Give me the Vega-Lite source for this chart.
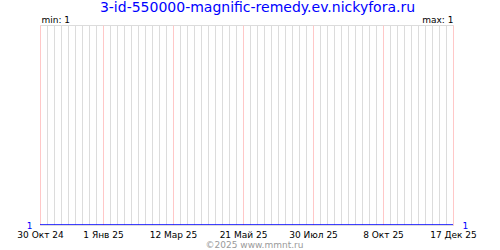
{
  "$schema": "https://vega.github.io/schema/vega-lite/v6.json",
  "width": 413,
  "height": 200,
  "autosize": {"type": "none"},
  "padding": {"left": 40, "top": 25, "right": 47, "bottom": 25},
  "background": "#ffffff",
  "config": {
    "view": {"stroke": "#dcdcdc", "strokeWidth": 1},
    "font": "DejaVu Sans"
  },
  "title": {
    "text": "3-id-550000-magnific-remedy.ev.nickyfora.ru",
    "font": "DejaVu Sans",
    "fontSize": 14,
    "fontWeight": "normal",
    "color": "#0000ff",
    "anchor": "middle",
    "frame": "group",
    "dx": 11,
    "offset": 0
  },
  "data": {
    "values": [
      {"date": "2024-10-30", "value": 1},
      {"date": "2025-01-01", "value": 1},
      {"date": "2025-03-12", "value": 1},
      {"date": "2025-05-21", "value": 1},
      {"date": "2025-07-30", "value": 1},
      {"date": "2025-10-08", "value": 1},
      {"date": "2025-12-17", "value": 1}
    ]
  },
  "encoding": {
    "x": {
      "field": "date",
      "type": "temporal",
      "scale": {"type": "utc", "domain": [1730246400000, 1765929600000], "nice": false, "padding": 0},
      "axis": {
        "orient": "bottom",
        "values": [1730246400000,1730851200000,1731456000000,1732060800000,1732665600000,1733270400000,1733875200000,1734480000000,1735084800000,1735689600000,1736294400000,1736899200000,1737504000000,1738108800000,1738713600000,1739318400000,1739923200000,1740528000000,1741132800000,1741737600000,1742342400000,1742947200000,1743552000000,1744156800000,1744761600000,1745366400000,1745971200000,1746576000000,1747180800000,1747785600000,1748390400000,1748995200000,1749600000000,1750204800000,1750809600000,1751414400000,1752019200000,1752624000000,1753228800000,1753833600000,1754438400000,1755043200000,1755648000000,1756252800000,1756857600000,1757462400000,1758067200000,1758672000000,1759276800000,1759881600000,1760486400000,1761091200000,1761696000000,1762300800000,1762905600000,1763510400000,1764115200000,1764720000000,1765324800000,1765929600000],
        "grid": true,
        "gridColor": {
          "condition": {
            "test": "time(datum.value) == 1730246400000 || (time(datum.value) - 1735689600000) % 6048000000 == 0",
            "value": "#ffc8c8"
          },
          "value": "#dcdcdc"
        },
        "gridWidth": 1,
        "ticks": false,
        "tickSize": 0,
        "domain": false,
        "labelOverlap": false,
        "labelFlush": false,
        "labelExpr": "(time(datum.value) == 1730246400000 || (time(datum.value) - 1735689600000) % 6048000000 == 0) ? utcdate(datum.value) + ' ' + ['Янв','Фев','Мар','Апр','Май','Июн','Июл','Авг','Сен','Окт','Ноя','Дек'][utcmonth(datum.value)] + ' ' + (utcyear(datum.value) % 100) : ''",
        "labelFont": "DejaVu Sans",
        "labelFontSize": 9,
        "labelColor": "#000000",
        "labelPadding": 5,
        "labelBaseline": "top",
        "title": "©2025 www.mmnt.ru",
        "titleFont": "DejaVu Sans",
        "titleFontSize": 9,
        "titleFontWeight": "normal",
        "titleColor": "#9a9a9a",
        "titleAnchor": "middle",
        "titleAlign": "center",
        "titleBaseline": "alphabetic",
        "titleX": 214,
        "titleY": 22
      }
    }
  },
  "resolve": {"axis": {"y": "independent"}},
  "layer": [
    {
      "mark": {"type": "line", "color": "#0000ff", "strokeWidth": 1.2, "clip": true},
      "encoding": {
        "y": {
          "field": "value",
          "type": "quantitative",
          "scale": {"domain": [1, 2], "nice": false, "zero": false},
          "axis": {
            "orient": "left",
            "values": [1],
            "grid": false,
            "ticks": false,
            "tickSize": 0,
            "domain": false,
            "labelFont": "DejaVu Sans",
            "labelFontSize": 9,
            "labelColor": "#0000ff",
            "labelPadding": 8,
            "labelBaseline": "middle",
            "labelFlush": false,
            "title": "min: 1",
            "titleAngle": 0,
            "titleFont": "DejaVu Sans",
            "titleFontSize": 9,
            "titleFontWeight": "normal",
            "titleColor": "#000000",
            "titleAlign": "left",
            "titleBaseline": "alphabetic",
            "titleX": 1,
            "titleY": -3
          }
        }
      }
    },
    {
      "mark": {"type": "line", "color": "#0000ff", "strokeWidth": 1.2, "clip": true},
      "encoding": {
        "y": {
          "field": "value",
          "type": "quantitative",
          "axis": {
            "orient": "right",
            "values": [1],
            "grid": false,
            "ticks": false,
            "tickSize": 0,
            "domain": false,
            "labelFont": "DejaVu Sans",
            "labelFontSize": 9,
            "labelColor": "#0000ff",
            "labelPadding": 9,
            "labelBaseline": "middle",
            "labelFlush": false,
            "title": "max: 1",
            "titleAngle": 0,
            "titleFont": "DejaVu Sans",
            "titleFontSize": 9,
            "titleFontWeight": "normal",
            "titleColor": "#000000",
            "titleAlign": "right",
            "titleBaseline": "alphabetic",
            "titleX": 0,
            "titleY": -3
          }
        }
      }
    }
  ]
}
